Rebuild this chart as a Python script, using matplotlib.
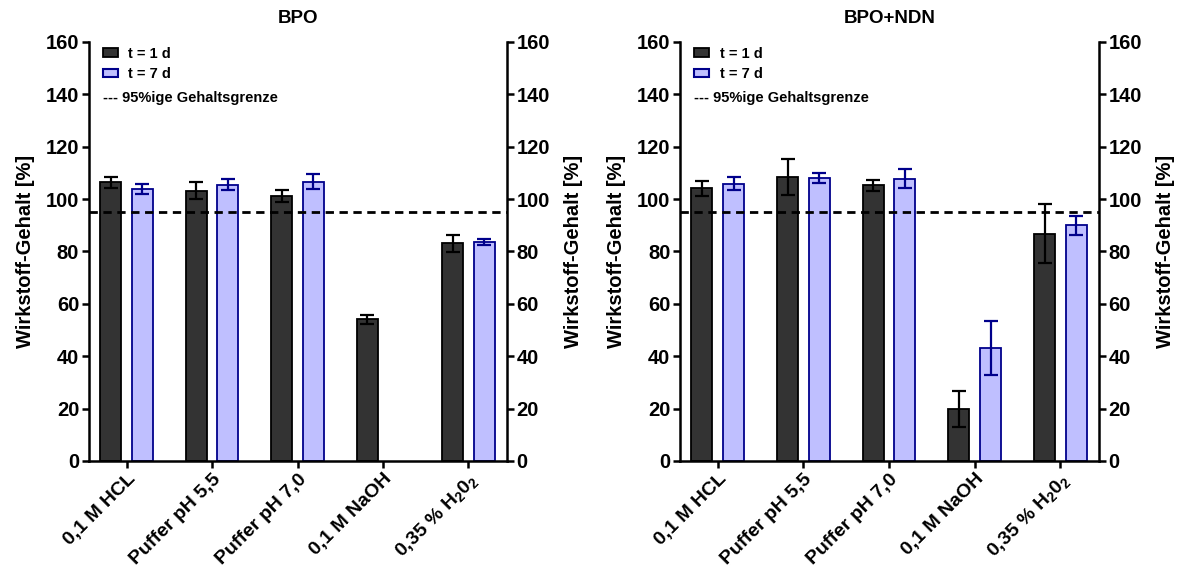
import numpy as np
import matplotlib.pyplot as plt
from matplotlib.patches import Patch

plt.rcParams['font.family'] = ['Liberation Sans', 'DejaVu Sans']
plt.rcParams['font.weight'] = 'bold'
plt.rcParams['mathtext.fontset'] = 'custom'
plt.rcParams['mathtext.rm'] = 'Liberation Sans:bold'
plt.rcParams['mathtext.bf'] = 'Liberation Sans:bold'

categories = ["0,1 M HCL", "Puffer pH 5,5", "Puffer pH 7,0", "0,1 M NaOH",
              r"0,35 % H$_2$0$_2$"]
titles = ["BPO", "BPO+NDN"]

# BPO
bpo_d1 = [106.4, 103.2, 101.1, 54.1, 83.1]
bpo_d1_err = [2.0, 3.3, 2.3, 1.8, 3.3]
bpo_d7 = [103.7, 105.5, 106.6, np.nan, 83.6]
bpo_d7_err = [1.9, 2.0, 2.8, np.nan, 1.2]

# BPO+NDN
ndn_d1 = [104.1, 108.4, 105.2, 19.7, 86.8]
ndn_d1_err = [3.0, 7.0, 2.2, 6.9, 11.3]
ndn_d7 = [105.9, 108.1, 107.8, 43.1, 90.0]
ndn_d7_err = [2.5, 2.0, 3.7, 10.3, 3.6]

limit = 95
ylabel = "Wirkstoff-Gehalt [%]"

dark = "#333333"
light = "#bfbfff"
navy = "#00008b"

fig = plt.figure(figsize=(11.83, 5.75), dpi=100)
axes = [fig.add_axes([0.0752, 0.1983, 0.3533, 0.7287]),
        fig.add_axes([0.5748, 0.1983, 0.3542, 0.7287])]

data = [(bpo_d1, bpo_d1_err, bpo_d7, bpo_d7_err),
        (ndn_d1, ndn_d1_err, ndn_d7, ndn_d7_err)]

x = np.arange(len(categories))
w = 0.245
off = 0.185

for ax, title, (d1, e1, d7, e7) in zip(axes, titles, data):
    ax.bar(x - off, d1, w, color=dark, edgecolor="black", linewidth=1.3, zorder=2)
    ax.bar(x + off, d7, w, color=light, edgecolor=navy, linewidth=1.3, zorder=2)
    ax.errorbar(x - off, d1, yerr=e1, fmt="none", ecolor="black",
                elinewidth=1.6, capsize=5, capthick=1.6, zorder=4)
    ax.errorbar(x + off, d7, yerr=e7, fmt="none", ecolor=navy,
                elinewidth=1.6, capsize=5, capthick=1.6, zorder=4)
    ax.axhline(limit, color="black", linestyle=(0, (3, 2)), linewidth=2, zorder=3)

    ax.set_xlim(-0.44, 4.45)
    ax.set_ylim(0, 160)
    ax.set_yticks(np.arange(0, 161, 20))
    ax.set_xticks(x)
    ax.set_xticklabels(categories, rotation=45, ha="right",
                       rotation_mode="anchor", fontsize=14, fontweight="bold")
    ax.tick_params(axis="y", labelsize=14.5, width=1.8, length=5, pad=2)
    ax.tick_params(axis="x", width=1.8, length=5, pad=2)
    for s in ["top", "right"]:
        ax.spines[s].set_visible(False)
    for s in ["left", "bottom"]:
        ax.spines[s].set_linewidth(1.8)
    ax.set_ylabel(ylabel, fontsize=14.5, fontweight="bold", labelpad=8)
    ax.set_title(title, fontsize=13.5, fontweight="bold", pad=14)

    ax2 = ax.twinx()
    ax2.set_ylim(0, 160)
    ax2.set_yticks(np.arange(0, 161, 20))
    ax2.tick_params(axis="y", labelsize=14.5, width=1.8, length=5, pad=2)
    for s in ["top", "left", "bottom"]:
        ax2.spines[s].set_visible(False)
    ax2.spines["right"].set_linewidth(1.8)
    ax2.set_ylabel(ylabel, fontsize=14.5, fontweight="bold", labelpad=10)

    handles = [Patch(facecolor=dark, edgecolor="black", linewidth=1.3),
               Patch(facecolor=light, edgecolor=navy, linewidth=1.5)]
    leg = ax.legend(handles, ["t = 1 d", "t = 7 d"], loc="upper left",
                    bbox_to_anchor=(0.0335, 0.989), frameon=False,
                    prop={"size": 10.5, "weight": "bold"},
                    handlelength=1.05, handleheight=0.5, handletextpad=0.7,
                    labelspacing=0.45, borderpad=0, borderaxespad=0)
    ax.text(0.0335, 0.8656, "--- 95%ige Gehaltsgrenze", transform=ax.transAxes,
            fontsize=10.5, fontweight="bold", va="center", ha="left")

fig.savefig("out.png", dpi=100)
